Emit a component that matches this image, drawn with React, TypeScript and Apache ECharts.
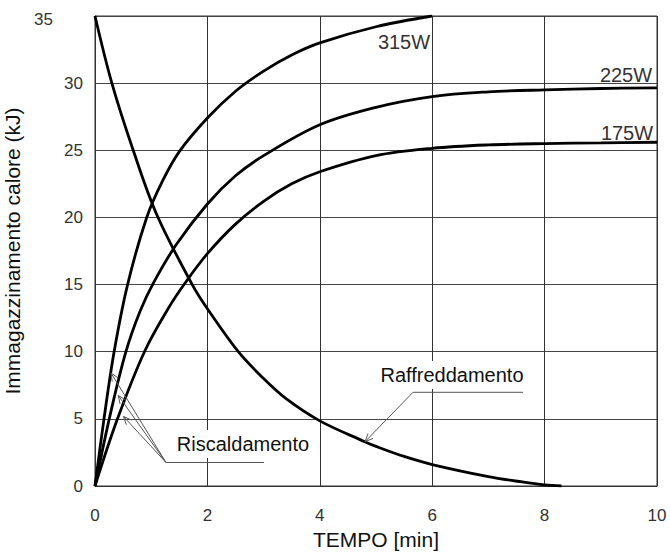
import React, { useEffect, useRef } from "react";
import * as echarts from "echarts";

const xTicks = [0, 2, 4, 6, 8, 10];
const yTicks = [0, 5, 10, 15, 20, 25, 30, 35];

const heat315: [number, number][] = [
  [0, 0], [0.16, 5], [0.34, 10], [0.58, 15], [0.92, 20], [1.2, 22.7], [1.5, 24.9],
  [2, 27.4], [2.5, 29.4], [3, 30.9], [3.5, 32.1], [4, 33], [5, 34.2], [6, 35],
];
const heat225: [number, number][] = [
  [0, 0], [0.27, 5.3], [0.55, 10], [0.8, 13], [1.05, 15.2], [1.45, 18], [2, 21],
  [2.5, 23.1], [3, 24.6], [4, 26.9], [5, 28.2], [6, 29.0], [7, 29.35], [8, 29.5],
  [9, 29.6], [10, 29.65],
];
const heat175: [number, number][] = [
  [0, 0], [0.4, 5], [0.88, 10], [1.3, 13.2], [1.6, 15.1], [2, 17.3], [2.5, 19.5],
  [3, 21.2], [3.5, 22.5], [4, 23.4], [5, 24.6], [6, 25.15], [7, 25.4], [8, 25.5],
  [9, 25.55], [10, 25.6],
];
const cooling: [number, number][] = [
  [0, 35], [0.3, 30], [0.68, 25], [1.1, 20.2], [1.73, 15], [2, 13.2], [2.55, 10],
  [3, 8.0], [3.4, 6.5], [4, 4.85], [4.8, 3.3], [5, 2.95], [5.5, 2.2], [6, 1.6],
  [7, 0.7], [7.6, 0.3], [8, 0.08], [8.3, 0],
];

const seriesNames = ["315W", "225W", "175W", "Raffreddamento"];
const labels = { x: "TEMPO [min]", y: "Immagazzinamento calore (kJ)", heat: "Riscaldamento", cool: "Raffreddamento" };

const FONT = "'Liberation Sans', Arial, sans-serif";
const LEAD = "#555";

function arrowLines(tail: number[], tip: number[], id: string) {
  const dx = tip[0] - tail[0];
  const dy = tip[1] - tail[1];
  const len = Math.sqrt(dx * dx + dy * dy);
  const ux = dx / len, uy = dy / len;
  const hl = 8, hw = 3.5;
  const bx = tip[0] - ux * hl, by = tip[1] - uy * hl;
  const px = -uy, py = ux;
  return [
    { type: "line", id: id + "l", z: 50, shape: { x1: tail[0], y1: tail[1], x2: tip[0], y2: tip[1] }, style: { stroke: LEAD, lineWidth: 1 } },
    {
      type: "polyline", id: id + "h", z: 50,
      shape: { points: [[bx + px * hw, by + py * hw], tip, [bx - px * hw, by - py * hw]] },
      style: { stroke: LEAD, lineWidth: 1, fill: null },
    },
  ];
}

export default function App() {
  const ref = useRef<HTMLDivElement>(null);
  useEffect(() => {
    if (!ref.current) return;
    const chart = echarts.init(ref.current, null, { renderer: "svg" });
    const lineStyle = { color: "#000", width: 2.8 };
    const mk = (name: string, data: [number, number][]) => ({
      name, type: "line", data, smooth: 0.35, showSymbol: false,
      lineStyle, itemStyle: { color: "#000" }, z: 3,
    });
    const graphics: any[] = [];
    const rTail = [166, 462.5];
    graphics.push(...arrowLines(rTail, [111, 373], "a1"));
    graphics.push(...arrowLines(rTail, [118.3, 395.5], "a2"));
    graphics.push(...arrowLines(rTail, [123.5, 416.5], "a3"));
    graphics.push({ type: "line", z: 50, shape: { x1: 166, y1: 462.5, x2: 264, y2: 462.5 }, style: { stroke: LEAD, lineWidth: 1 } });
    graphics.push({ type: "line", z: 50, shape: { x1: 413, y1: 392.3, x2: 523, y2: 392.3 }, style: { stroke: LEAD, lineWidth: 1 } });
    graphics.push(...arrowLines([413, 392.3], [365, 441.7], "b1"));
    graphics.push({
      type: "text", z: 60, x: 243, y: 444,
      style: { text: labels.heat, font: `20px ${FONT}`, fill: "#111", align: "center", verticalAlign: "middle", backgroundColor: "#fff", padding: [4, 4] },
    });
    graphics.push({
      type: "text", z: 60, x: 452, y: 375,
      style: { text: labels.cool, font: `20px ${FONT}`, fill: "#111", align: "center", verticalAlign: "middle", backgroundColor: "#fff", padding: [4, 4] },
    });
    const wl = [[404, 42], [626, 75], [627, 132.5]];
    seriesNames.slice(0, 3).forEach((n, i) => {
      graphics.push({
        type: "text", z: 60, x: wl[i][0], y: wl[i][1],
        style: { text: n, font: `20px ${FONT}`, fill: "#333", align: "center", verticalAlign: "middle" },
      });
    });

    chart.setOption({
      animation: false,
      backgroundColor: "#fff",
      grid: {
        left: 95, right: 13, top: 16, bottom: 68, show: true, borderColor: "#333", borderWidth: 1,
        containLabel: false, outerBoundsMode: "none",
      },
      xAxis: {
        type: "value", min: xTicks[0], max: xTicks[xTicks.length - 1], interval: 2,
        name: labels.x, nameLocation: "middle", nameGap: 38,
        nameTextStyle: { fontFamily: FONT, fontSize: 21, color: "#111" },
        axisLine: { lineStyle: { color: "#333" } },
        axisTick: { show: false },
        axisLabel: { fontFamily: FONT, fontSize: 17, color: "#333", margin: 21 },
        splitLine: { show: true, lineStyle: { color: "#333", width: 1 } },
      },
      yAxis: {
        type: "value", min: yTicks[0], max: yTicks[yTicks.length - 1], interval: 5,
        name: labels.y, nameLocation: "middle", nameGap: 60,
        nameTextStyle: { fontFamily: FONT, fontSize: 21, color: "#111" },
        axisLine: { show: true, lineStyle: { color: "#333" } },
        axisTick: { show: false },
        axisLabel: {
          fontFamily: FONT, fontSize: 17, color: "#333", margin: 12,
          formatter: (v: number) => (v === 35 ? "{t|" + v + "}" : String(v)),
          rich: { t: { fontFamily: FONT, fontSize: 17, color: "#333", padding: [7, 30, 0, 0] } },
        },
        splitLine: { show: true, lineStyle: { color: "#444", width: 1 } },
      },
      series: [mk(seriesNames[0], heat315), mk(seriesNames[1], heat225), mk(seriesNames[2], heat175), mk(seriesNames[3], cooling)],
      graphic: graphics,
    });
    return () => chart.dispose();
  }, []);
  return <div ref={ref} style={{ width: 670, height: 554, position: "absolute", left: 0, top: 0 }} />;
}
